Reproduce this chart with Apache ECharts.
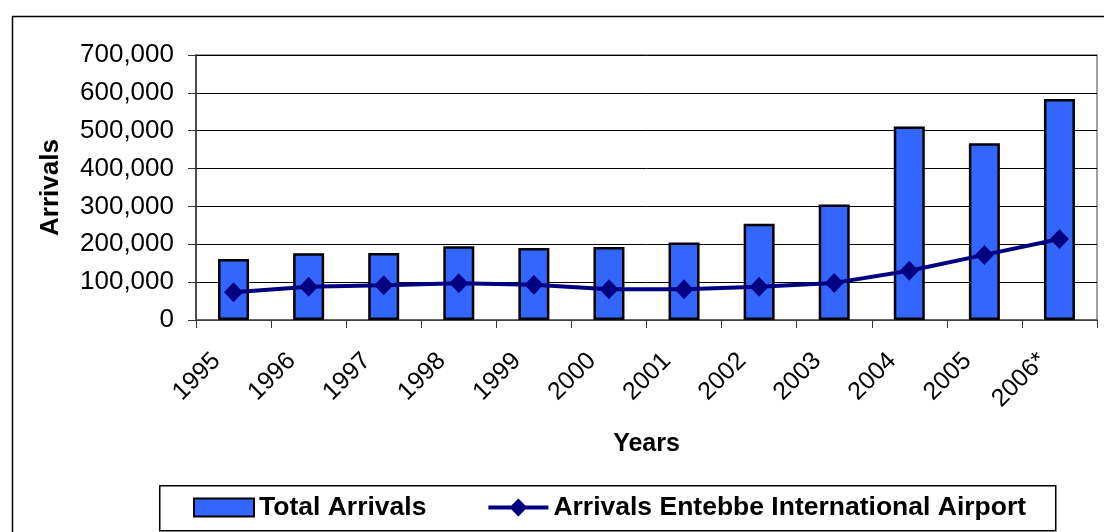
<!DOCTYPE html>
<html>
<head>
<meta charset="utf-8">
<script src="https://cdn.jsdelivr.net/npm/echarts@6/dist/echarts.min.js"></script>
<style>
  html, body { margin: 0; padding: 0; background: #fff; }
  #chart { width: 1104px; height: 532px; }
</style>
</head>
<body>
<div id="chart"></div>
<script>
// Tourist arrivals to Uganda, 1995-2006 (2006 provisional)
var years = ['1995', '1996', '1997', '1998', '1999', '2000', '2001', '2002', '2003', '2004', '2005', '2006*'];
var totalArrivals = [161000, 176000, 177000, 195000, 190000, 193000, 205000, 254000, 305000, 511000, 467000, 584000];
var entebbeArrivals = [73000, 88000, 92000, 97000, 93000, 81000, 81000, 88000, 98000, 130000, 172000, 214000];
var yTicks = { min: 0, max: 700000, interval: 100000 };

var FONT = '"Liberation Sans", Arial, sans-serif';

// legend glyph for the line series: thick stroke with a diamond marker
var LINE_ICON = 'path://M0,7 L23,7 L30,0 L37,7 L60,7 L60,11 L37,11 L30,18 L23,11 L0,11 Z';

var chart = echarts.init(document.getElementById('chart'), null, { renderer: 'canvas' });

chart.setOption({
  backgroundColor: '#ffffff',
  animation: false,
  textStyle: { fontFamily: FONT, color: '#000' },
  graphic: [
    // outer chart frame (top and left edges visible)
    {
      type: 'rect', left: 10, top: 14, silent: true,
      shape: { width: 1200, height: 600 },
      style: { fill: 'none', stroke: '#000', lineWidth: 1.5 }
    },
    // legend frame
    {
      type: 'rect', left: 159, top: 485, silent: true,
      shape: { width: 896, height: 45 },
      style: { fill: '#fff', stroke: '#000', lineWidth: 1.5 },
      z: 0
    }
  ],
  grid: {
    left: 196, right: 7, top: 55, bottom: 212,
    show: true, borderColor: '#808080', borderWidth: 1.5, backgroundColor: 'transparent'
  },
  legend: {
    left: 193, top: 494, padding: 0,
    itemWidth: 60, itemHeight: 18, itemGap: 62,
    textStyle: { fontFamily: FONT, fontSize: 26.5, fontWeight: 'bold', color: '#000' },
    z: 5,
    data: [
      { name: 'Total Arrivals', icon: 'rect' },
      { name: 'Arrivals Entebbe International Airport', icon: LINE_ICON }
    ]
  },
  xAxis: {
    type: 'category',
    data: years,
    boundaryGap: true,
    name: 'Years',
    nameLocation: 'middle',
    nameGap: 112,
    nameTextStyle: { fontFamily: FONT, fontSize: 25, fontWeight: 'bold', color: '#000' },
    axisLine: { show: true, lineStyle: { color: '#555', width: 1.5 } },
    axisTick: { show: true, length: 8, lineStyle: { color: '#333', width: 1 } },
    axisLabel: {
      rotate: 45, margin: 20, interval: 0,
      padding: [0, 24, 0, 0],
      fontFamily: FONT, fontSize: 25, color: '#000'
    },
    splitLine: { show: false }
  },
  yAxis: {
    type: 'value',
    min: yTicks.min, max: yTicks.max, interval: yTicks.interval,
    name: 'Arrivals',
    nameLocation: 'middle',
    nameGap: 132,
    nameRotate: 90,
    nameTextStyle: { fontFamily: FONT, fontSize: 26, fontWeight: 'bold', color: '#000' },
    axisLine: { show: true, lineStyle: { color: '#333', width: 1.5 } },
    axisTick: { show: true, inside: false, length: 8, lineStyle: { color: '#333', width: 1 } },
    axisLabel: {
      margin: 22, fontFamily: FONT, fontSize: 26, color: '#000',
      formatter: function (v) { return v.toLocaleString('en-US'); }
    },
    splitLine: { show: true, lineStyle: { color: '#000', width: 1 } }
  },
  series: [
    {
      name: 'Total Arrivals',
      type: 'bar',
      data: totalArrivals,
      barWidth: 31,
      itemStyle: { color: '#3366FF', borderColor: '#000', borderWidth: 2.5 }
    },
    {
      name: 'Arrivals Entebbe International Airport',
      type: 'line',
      data: entebbeArrivals,
      symbol: 'diamond',
      symbolSize: [19, 20],
      lineStyle: { color: '#000080', width: 4 },
      itemStyle: { color: '#000080', borderColor: '#000080', borderWidth: 0 },
      z: 3
    }
  ]
});
</script>
</body>
</html>
